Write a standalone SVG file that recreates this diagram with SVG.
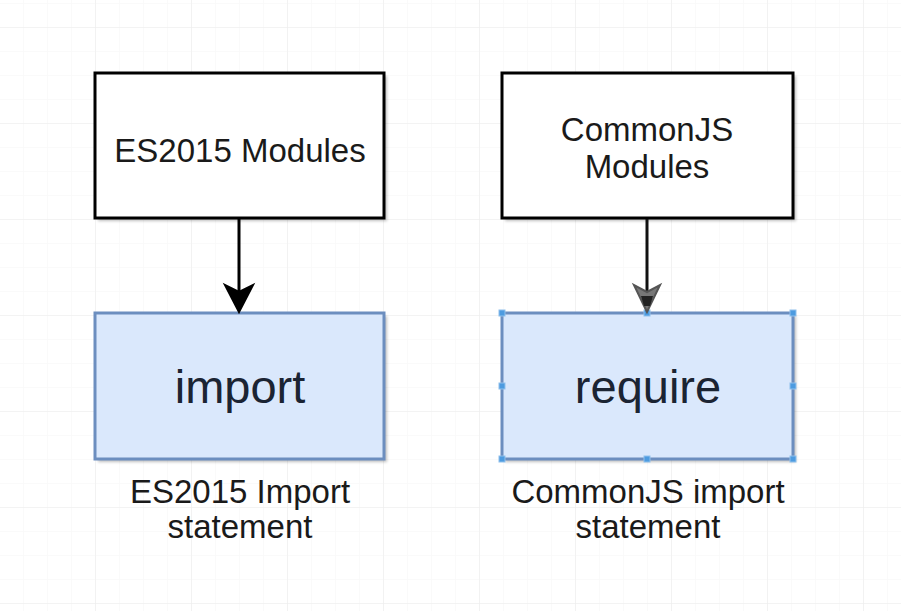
<svg xmlns="http://www.w3.org/2000/svg" width="901" height="611" viewBox="0 0 901 611">
  <defs>
    <pattern id="minor" width="24" height="24" patternUnits="userSpaceOnUse" x="-1" y="3">
      <path d="M0 0H24M0 0V24" fill="none" stroke="#f6f6f6" stroke-width="1"/>
    </pattern>
    <pattern id="major" width="96" height="96" patternUnits="userSpaceOnUse" x="-1" y="27">
      <path d="M0 0H96M0 0V96" fill="none" stroke="#ececec" stroke-width="1.2"/>
    </pattern>
    <filter id="blur" x="-10%" y="-10%" width="120%" height="120%">
      <feGaussianBlur stdDeviation="1.5"/>
    </filter>
  </defs>
  <style>
    .plain { fill: #ffffff; stroke: #000000; stroke-width: 3; }
    .blue { fill: #dae8fc; stroke: #6c8ebf; stroke-width: 3; }
    .shadow { fill: #000000; opacity: 0.25; filter: url(#blur); }
    .t { font-family: "Liberation Sans", Arial, Helvetica, sans-serif; fill: #1a1a1a; text-anchor: middle; }
    .m { font-size: 33px; }
    .big { font-size: 47px; fill: #1b2433; }
    .handle { fill: #4d9be0; stroke: #8fc0ec; stroke-width: 1; }
  </style>
  <rect width="901" height="611" fill="#ffffff"/>
  <rect width="901" height="611" fill="url(#minor)"/>
  <rect width="901" height="611" fill="url(#major)"/>

  <g id="es2015-modules">
    <rect class="shadow" x="98" y="76" width="289" height="145"/>
    <rect class="plain" x="95" y="73" width="289" height="145"/>
    <text class="t m" x="240" y="162">ES2015 Modules</text>
  </g>

  <g id="commonjs-modules">
    <rect class="shadow" x="505" y="76" width="291" height="145"/>
    <rect class="plain" x="502" y="73" width="291" height="145"/>
    <text class="t m" x="647" y="141">CommonJS</text>
    <text class="t m" x="647" y="178">Modules</text>
  </g>

  <g id="import">
    <rect class="shadow" x="98" y="316" width="289" height="146"/>
    <rect class="blue" x="95" y="313" width="289" height="146"/>
    <text class="t big" x="240" y="403">import</text>
  </g>

  <g id="require">
    <rect class="shadow" x="505" y="316" width="291" height="146"/>
    <rect class="blue" x="502" y="313" width="291" height="146"/>
    <text class="t big" x="648" y="403">require</text>
    <rect class="handle" x="499" y="310" width="6" height="6"/>
    <rect class="handle" x="644" y="310" width="6" height="6"/>
    <rect class="handle" x="790" y="310" width="6" height="6"/>
    <rect class="handle" x="499" y="383" width="6" height="6"/>
    <rect class="handle" x="790" y="383" width="6" height="6"/>
    <rect class="handle" x="499" y="456" width="6" height="6"/>
    <rect class="handle" x="644" y="456" width="6" height="6"/>
    <rect class="handle" x="790" y="456" width="6" height="6"/>
  </g>

  <g id="label-es2015">
    <text class="t m" x="240" y="503">ES2015 Import</text>
    <text class="t m" x="240" y="538">statement</text>
  </g>

  <g id="label-commonjs">
    <text class="t m" x="648" y="503">CommonJS import</text>
    <text class="t m" x="648" y="538">statement</text>
  </g>

  <g id="connectors">
    <line x1="239" y1="219" x2="239" y2="296" stroke="#000" stroke-width="3"/>
    <path d="M239 312 L225 285 L239 292 L253 285 Z" fill="#000" stroke="#000" stroke-width="2" stroke-linejoin="miter"/>
    <line x1="647" y1="219" x2="647" y2="296" stroke="#111" stroke-width="3"/>
    <path d="M647 312 L634 285 L647 292 L660 285 Z" fill="#777" stroke="#555" stroke-width="2"/>
    <path d="M641 296 L653 296 L650 306 L644 306 Z" fill="#222"/>
  </g>
</svg>
